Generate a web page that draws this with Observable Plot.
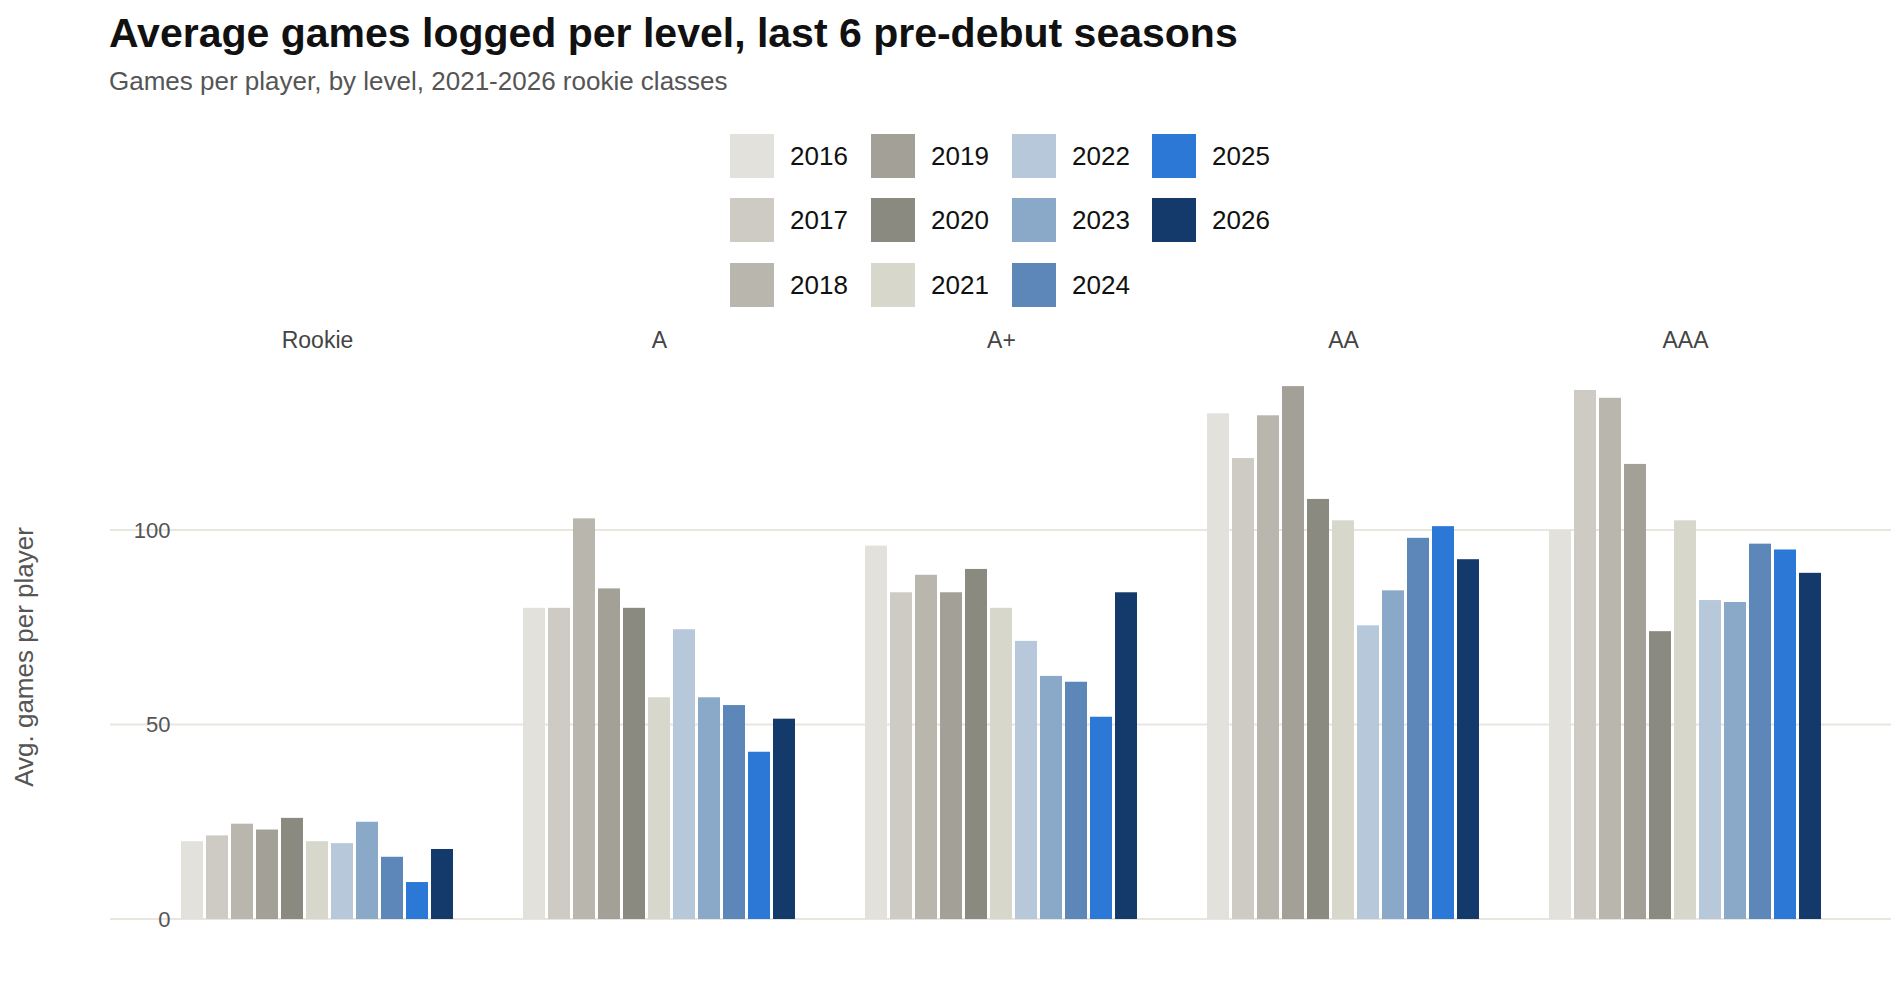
<!DOCTYPE html>
<html><head><meta charset="utf-8">
<script src="https://cdn.jsdelivr.net/npm/d3@7"></script>
<script src="https://cdn.jsdelivr.net/npm/@observablehq/plot@0.6"></script>
<style>
body{margin:0;background:#fff;font-family:"Liberation Sans",Arial,sans-serif;width:1900px;height:993px;position:relative;overflow:hidden}
#title{position:absolute;left:109px;top:10px;font-size:41px;font-weight:bold;color:#111}
#sub{position:absolute;left:109px;top:66px;font-size:26px;color:#555}
#legend{position:absolute;left:0;top:0}
.sw{position:absolute;width:44px;height:44px}
.lt{position:absolute;font-size:26px;color:#111;line-height:44px}
#chart{position:absolute;left:0;top:320px}
</style></head><body>
<div id="title">Average games logged per level, last 6 pre-debut seasons</div>
<div id="sub">Games per player, by level, 2021-2026 rookie classes</div>
<div id="legend"></div>
<div id="chart"></div>
<script>
const levels = ["Rookie","A","A+","AA","AAA"];
const years = ["2016","2017","2018","2019","2020","2021","2022","2023","2024","2025","2026"];
const colors = ["#e3e1db","#cdcbc3","#b8b6ad","#a3a098","#8a8a80","#d8d7cb","#b7c8db","#8aa8c8","#5d87b9","#2b78d6","#143a6b"];
const rookie = [20,21.5,24.5,23,26,20,19.5,25,16,9.5,18];
const levelA = [80,80,103,85,80,57,74.5,57,55,43,51.5];
const levelAplus = [96,84,88.5,84,90,80,71.5,62.5,61,52,84];
const levelAA = [130,118.5,129.5,137,108,102.5,75.5,84.5,98,101,92.5];
const levelAAA = [100,136,134,117,74,102.5,82,81.5,96.5,95,89];
const yTicks = [0,50,100];

const series = [rookie, levelA, levelAplus, levelAA, levelAAA];
const data = [];
levels.forEach((l,i)=>years.forEach((y,j)=>data.push({level:l,year:y,value:series[i][j]})));

const leg = document.getElementById("legend");
const colX = [730,871,1012,1152], rowY = [134,198,263];
years.forEach((y,k)=>{
  const c = Math.floor(k/3), r = k%3;
  const s = document.createElement("div"); s.className="sw";
  s.style.left=colX[c]+"px"; s.style.top=rowY[r]+"px"; s.style.background=colors[k];
  const t = document.createElement("div"); t.className="lt";
  t.style.left=(colX[c]+60)+"px"; t.style.top=rowY[r]+"px"; t.textContent=y;
  leg.append(s,t);
});

const chart = Plot.plot({
  width:1900, height:673,
  marginLeft:110, marginRight:9, marginTop:0, marginBottom:74,
  style:{fontFamily:"Liberation Sans, Arial, sans-serif", fontSize:"22px", color:"#555", background:"#fff", overflow:"visible"},
  fx:{domain:levels, paddingInner:0.2, paddingOuter:0.2, label:null, axis:null},
  x:{domain:years, axis:null, paddingInner:0.12, paddingOuter:0},
  y:{domain:[0,154], label:null, axis:null},
  color:{domain:years, range:colors},
  marks:[
    Plot.barY(data,{fx:"level", x:"year", y:"value", fill:"year"}),
    Plot.axisY({ticks:yTicks, tickSize:0, tickPadding:10, fontSize:22, label:null, facetAnchor:"left"}),
    Plot.axisFx({tickSize:0, dy:36, fontSize:23, label:null, fill:"#444"})
  ]
});
document.getElementById("chart").append(chart);
const ys = chart.scale("y"), xs0 = 110, xs1 = 1891;
const g = d3.select(chart).insert("g", ":first-child");
yTicks.forEach(v=>{
  g.append("line").attr("x1",xs0).attr("x2",xs1)
   .attr("y1",ys.apply(v)).attr("y2",ys.apply(v))
   .attr("stroke","#e8e6df").attr("stroke-width",2);
});
d3.select(chart).append("text")
  .attr("transform","translate(33,337) rotate(-90)")
  .attr("text-anchor","middle")
  .attr("font-size",26).attr("fill","#555")
  .text("Avg. games per player");
</script>
</body></html>
